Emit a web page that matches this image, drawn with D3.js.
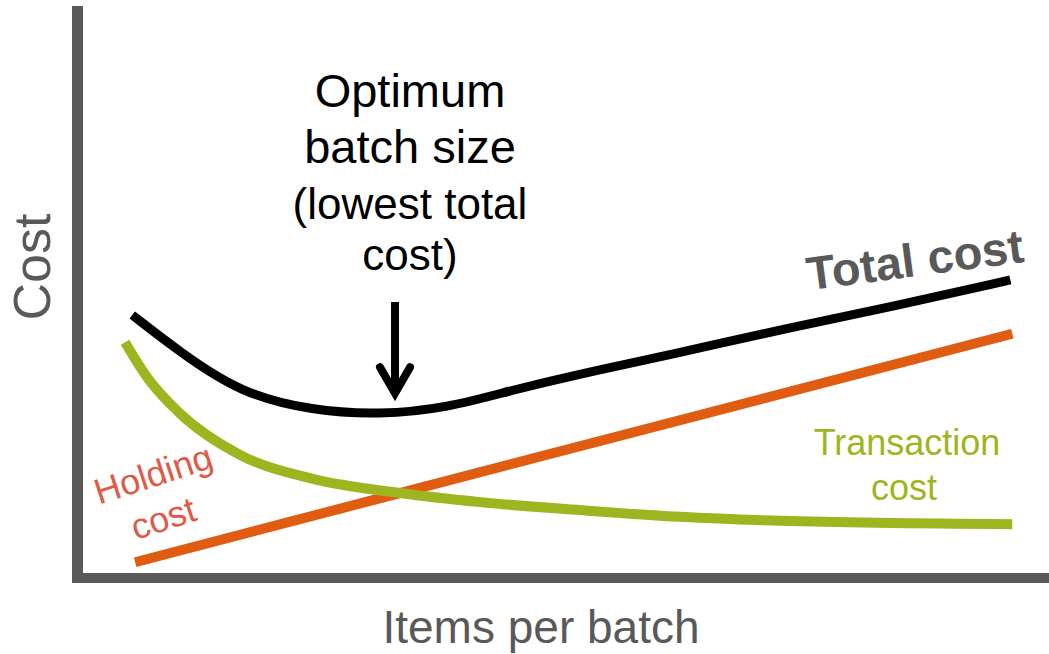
<!DOCTYPE html>
<html>
<head>
<meta charset="utf-8">
<script src="https://cdn.jsdelivr.net/npm/d3@7/dist/d3.min.js"></script>
<style>
  html, body { margin: 0; padding: 0; background: #ffffff; }
  svg { display: block; font-family: "Liberation Sans", Arial, sans-serif; }
</style>
</head>
<body>
<svg id="chart" width="1049" height="654"></svg>
<script>
// Items per batch (x) and cost (y), in chart units 0-100
const totalX       = [5.1, 10.0, 16.3, 23.8, 30.7, 37.7, 44.5, 51.4, 58.4, 65.2, 72.2, 84.6, 96.0];
const totalCost    = [45.5, 39.0, 31.7, 28.6, 27.9, 29.1, 32.3, 35.1, 37.6, 40.2, 42.9, 47.3, 51.7];

const holdingX     = [5.4, 32.8, 96.2];
const holdingCost  = [1.9, 14.1, 42.2];

const transX       = [4.35, 6.6, 10.0, 16.3, 23.8, 32.8, 41.1, 51.4, 61.8, 72.2, 96.2];
const transCost    = [40.7, 34.6, 28.2, 20.8, 16.6, 14.1, 12.5, 11.1, 9.9, 9.2, 8.6];

// Optimum batch size (lowest point of total cost)
const optimumX = 32.3;

const width = 1049, height = 654;
const svg = d3.select("#chart");

svg.append("rect").attr("width", width).attr("height", height).attr("fill", "#ffffff");

const x = d3.scaleLinear().domain([0, 100]).range([83, 1049]);
const y = d3.scaleLinear().domain([0, 100]).range([573, 6]);

const axisColor = "#595959";

// Axes: plain thick lines, no ticks
svg.append("line")
  .attr("x1", 77.5).attr("x2", 77.5)
  .attr("y1", y(100)).attr("y2", y(0) + 10)
  .attr("stroke", axisColor).attr("stroke-width", 11);
svg.append("line")
  .attr("x1", 72).attr("x2", x(100))
  .attr("y1", y(0) + 5).attr("y2", y(0) + 5)
  .attr("stroke", axisColor).attr("stroke-width", 10);

function series(xs, ys) { return xs.map((v, i) => [v, ys[i]]); }

svg.append("path")
  .datum(series(holdingX, holdingCost))
  .attr("d", d3.line().x(d => x(d[0])).y(d => y(d[1])))
  .attr("fill", "none").attr("stroke", "#e05c10").attr("stroke-width", 10);

svg.append("path")
  .datum(series(transX, transCost))
  .attr("d", d3.line().x(d => x(d[0])).y(d => y(d[1])).curve(d3.curveMonotoneX))
  .attr("fill", "none").attr("stroke", "#9db51e").attr("stroke-width", 10);

svg.append("path")
  .datum(series(totalX, totalCost))
  .attr("d", d3.line().x(d => x(d[0])).y(d => y(d[1])).curve(d3.curveBasis))
  .attr("fill", "none").attr("stroke", "#000000").attr("stroke-width", 9);

// Arrow pointing down at the optimum
const ax = x(optimumX);
const tipY = y(31.0), topY = y(47.8);
svg.append("line")
  .attr("x1", ax).attr("x2", ax).attr("y1", topY).attr("y2", tipY - 4)
  .attr("stroke", "#000").attr("stroke-width", 8);
svg.append("path")
  .attr("d", `M${ax - 15},${tipY - 30} L${ax},${tipY - 4} L${ax + 15},${tipY - 30}`)
  .attr("fill", "none").attr("stroke", "#000").attr("stroke-width", 8)
  .attr("stroke-linecap", "round").attr("stroke-linejoin", "miter");

// Annotation text
const opt = svg.append("text")
  .attr("text-anchor", "middle").attr("fill", "#000");
[["Optimum", 107, 47], ["batch size", 163, 47], ["(lowest total", 219, 44], ["cost)", 270, 44]].forEach(([t, by, fs]) => {
  opt.append("tspan").attr("x", 410).attr("y", by).attr("font-size", fs).text(t);
});

// Axis titles
svg.append("text")
  .attr("x", 541).attr("y", 643)
  .attr("text-anchor", "middle").attr("fill", axisColor)
  .attr("font-size", 46).text("Items per batch");

svg.append("text")
  .attr("transform", "translate(50,267) rotate(-90)")
  .attr("text-anchor", "middle").attr("fill", axisColor)
  .attr("font-size", 52).text("Cost");

// Series labels
svg.append("text")
  .attr("transform", "translate(917,276) rotate(-7.5)")
  .attr("text-anchor", "middle").attr("fill", axisColor)
  .attr("font-size", 47).attr("font-weight", "bold").text("Total cost");

const hold = svg.append("g").attr("transform", "translate(157,486) rotate(-18)");
hold.append("text").attr("text-anchor", "middle").attr("fill", "#e05a48")
  .attr("font-size", 36).text("Holding");
hold.append("text").attr("x", -4).attr("y", 45).attr("text-anchor", "middle").attr("fill", "#e05a48")
  .attr("font-size", 36).text("cost");

const trans = svg.append("text")
  .attr("text-anchor", "middle").attr("fill", "#9db51e").attr("font-size", 36);
trans.append("tspan").attr("x", 907).attr("y", 455).text("Transaction");
trans.append("tspan").attr("x", 904).attr("y", 500).text("cost");
</script>
</body>
</html>
